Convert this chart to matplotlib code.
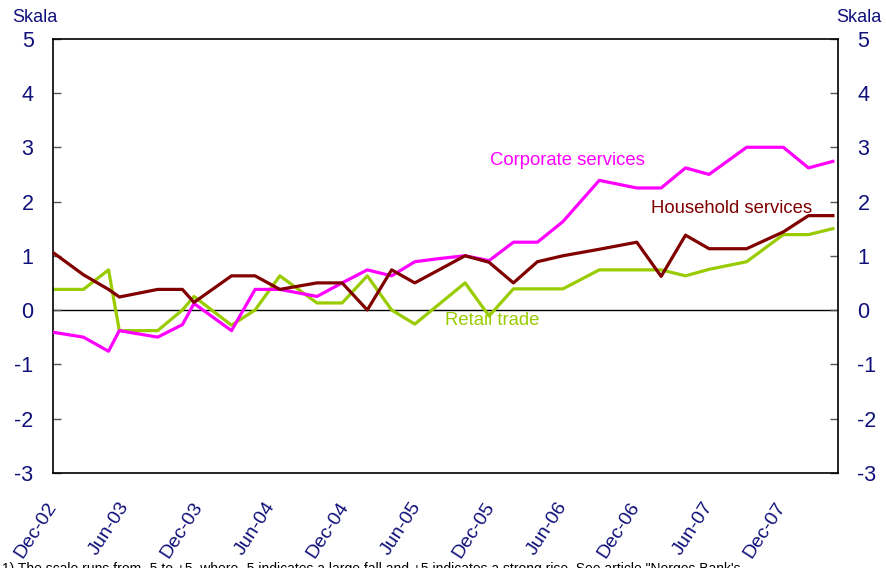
import matplotlib
matplotlib.use('Agg')
import matplotlib.pyplot as plt
import pandas as pd

plt.rcParams['font.family'] = ['Liberation Sans', 'DejaVu Sans']

NAVY = '#10107a'
MAGENTA = '#FF00FF'
DARKRED = '#800000'
LIME = '#99CC00'

# survey dates
dates = ['2002-12-01', '2003-02-15', '2003-04-19', '2003-05-16', '2003-08-20',
         '2003-10-21', '2003-11-19', '2004-02-21', '2004-04-20', '2004-06-21',
         '2004-09-22', '2004-11-24', '2005-01-26', '2005-03-28', '2005-05-25',
         '2005-07-27', '2005-09-28', '2005-11-27', '2006-01-27', '2006-03-28',
         '2006-05-31', '2006-08-30', '2006-12-02', '2007-02-01', '2007-04-03',
         '2007-06-01', '2007-09-03', '2007-12-04', '2008-02-05', '2008-04-06']

corporate = [-0.41, -0.50, -0.76, -0.38, -0.50, -0.27, 0.12, -0.38, 0.38, 0.38,
             0.25, 0.50, 0.74, 0.63, 0.89, 0.95, 1.00, 0.91, 1.25, 1.25,
             1.63, 2.39, 2.25, 2.25, 2.62, 2.50, 3.00, 3.00, 2.62, 2.74]

household = [1.06, 0.65, 0.38, 0.24, 0.38, 0.38, 0.14, 0.63, 0.63, 0.38,
             0.50, 0.50, 0.00, 0.74, 0.50, 0.75, 1.00, 0.88, 0.50, 0.89,
             1.00, 1.12, 1.25, 0.62, 1.38, 1.13, 1.13, 1.44, 1.74, 1.74]

retail = [0.38, 0.38, 0.74, -0.38, -0.38, 0.00, 0.25, -0.28, 0.00, 0.63,
          0.13, 0.13, 0.63, 0.00, -0.26, 0.12, 0.50, -0.11, 0.39, 0.39,
          0.39, 0.74, 0.74, 0.74, 0.63, 0.75, 0.89, 1.39, 1.39, 1.50]

tick_dates = ['2002-12-01', '2003-06-01', '2003-12-01', '2004-06-01', '2004-12-01',
              '2005-06-01', '2005-12-01', '2006-06-01', '2006-12-01', '2007-06-01',
              '2007-12-01']
tick_labels = ['Dec-02', 'Jun-03', 'Dec-03', 'Jun-04', 'Dec-04', 'Jun-05',
               'Dec-05', 'Jun-06', 'Dec-06', 'Jun-07', 'Dec-07']
y_ticks = [-3, -2, -1, 0, 1, 2, 3, 4, 5]

x = pd.to_datetime(dates)

fig = plt.figure(figsize=(8.87, 5.68), dpi=100, facecolor='white')
ax = fig.add_axes([0.0598, 0.1677, 0.885, 0.764])

ax.axhline(0, color='black', lw=1.0, zorder=1)
ax.plot(x, corporate, color=MAGENTA, lw=2.3, zorder=3)
ax.plot(x, household, color=DARKRED, lw=2.3, zorder=4)
ax.plot(x, retail, color=LIME, lw=2.3, zorder=2)

ax.set_xlim(pd.Timestamp('2002-12-01'), pd.Timestamp('2008-04-19'))
ax.set_ylim(-3, 5)

ax.set_xticks(pd.to_datetime(tick_dates))
ax.set_xticklabels(tick_labels, rotation=57, ha='right', va='center',
                   rotation_mode='anchor', color=NAVY, fontsize=14)
ax.tick_params(axis='x', length=0, pad=22)

ax.set_yticks(y_ticks)
ax.set_yticklabels([str(v) for v in y_ticks])
ax.tick_params(axis='y', which='both', direction='in', length=6, width=1,
               color='#555555', labelsize=15.5, labelcolor=NAVY, pad=14,
               left=True, right=True, labelleft=True, labelright=True)

for s in ax.spines.values():
    s.set_color('black')
    s.set_linewidth(1.2)

# series labels
ax.text(pd.Timestamp('2005-11-30'), 2.76, 'Corporate services', color=MAGENTA,
        fontsize=13.3, ha='left', va='center')
ax.text(pd.Timestamp('2007-01-07'), 1.88, 'Household services', color=DARKRED,
        fontsize=13.3, ha='left', va='center')
ax.text(pd.Timestamp('2005-08-09'), -0.2, 'Retail trade', color=LIME,
        fontsize=13.3, ha='left', va='center')

fig.text(12 / 887, 1 - 22 / 568, 'Skala', color=NAVY, fontsize=13,
         ha='left', va='baseline')
fig.text(881 / 887, 1 - 22 / 568, 'Skala', color=NAVY, fontsize=13,
         ha='right', va='baseline')

# footnote, cut by the lower edge as in the source
fig.text(2 / 887, 1 - 562 / 568,
         '1) The scale runs from -5 to +5, where -5 indicates a large fall and +5 '
         'indicates a strong rise. See article "Norges Bank\'s',
         color='black', fontsize=10, ha='left', va='top')

fig.savefig('out.png', dpi=100, facecolor='white')
